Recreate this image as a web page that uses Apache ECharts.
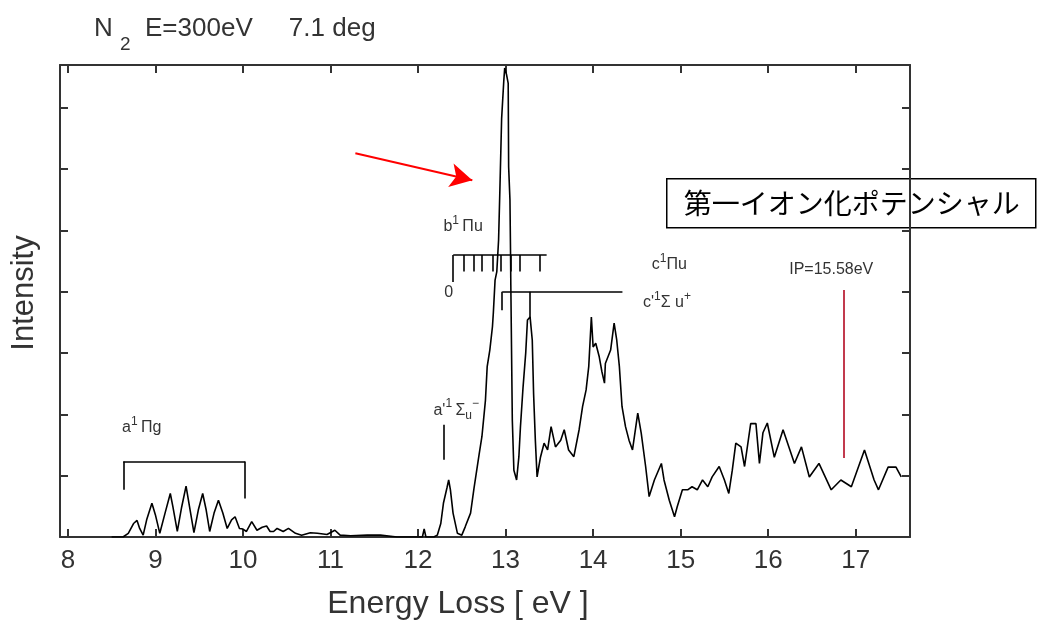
<!DOCTYPE html>
<html>
<head>
<meta charset="utf-8">
<title>N2 E=300eV 7.1 deg</title>
<script src="https://cdn.jsdelivr.net/npm/echarts@6/dist/echarts.min.js"></script>
<style>
  html, body { margin: 0; padding: 0; background: #fff; }
  #main { width: 1047px; height: 632px; }
</style>
</head>
<body>
<div id="main"></div>
<script>
// energy loss (eV) / intensity (arb.)
const energy = [
  8.50, 8.63, 8.69, 8.75, 8.79, 8.82, 8.86, 8.90, 8.96, 9.00,
  9.05, 9.11, 9.17, 9.20, 9.25, 9.30, 9.35, 9.39, 9.44, 9.49,
  9.54, 9.58, 9.62, 9.67, 9.72, 9.77, 9.82, 9.87, 9.91, 9.96,
  10.00, 10.04, 10.10, 10.16, 10.22, 10.27, 10.31, 10.35, 10.39, 10.46,
  10.52, 10.60, 10.67, 10.77, 10.85, 10.96, 11.05, 11.11, 11.23, 11.42,
  11.57, 11.76, 12.05, 12.07, 12.09, 12.18, 12.22, 12.26, 12.29, 12.33,
  12.35, 12.37, 12.40, 12.45, 12.50, 12.54, 12.60, 12.64, 12.70, 12.73,
  12.77, 12.79, 12.82, 12.85, 12.86, 12.88, 12.90, 12.92, 12.935, 12.955,
  12.98, 12.99, 13.01, 13.03, 13.035, 13.05, 13.057, 13.06, 13.077, 13.095,
  13.126, 13.152, 13.17, 13.20, 13.23, 13.25, 13.28, 13.305, 13.32, 13.34,
  13.36, 13.38, 13.40, 13.44, 13.48, 13.52, 13.57, 13.63, 13.67, 13.72,
  13.78, 13.84, 13.88, 13.92, 13.95, 13.98, 14.00, 14.03, 14.07, 14.10,
  14.13, 14.14, 14.20, 14.24, 14.27, 14.30, 14.33, 14.37, 14.41, 14.45,
  14.51, 14.55, 14.60, 14.64, 14.70, 14.78, 14.81, 14.87, 14.93, 14.96,
  15.02, 15.08, 15.13, 15.19, 15.25, 15.31, 15.36, 15.44, 15.50, 15.55,
  15.59, 15.63, 15.69, 15.73, 15.80, 15.86, 15.90, 15.94, 15.99, 16.07,
  16.17, 16.30, 16.38, 16.47, 16.58, 16.72, 16.83, 16.95, 17.10, 17.21,
  17.26, 17.37, 17.46, 17.52
];
const intensity = [
  0, 0, 0.06, 0.22, 0.27, 0.14, 0.03, 0.28, 0.55, 0.36,
  0.06, 0.39, 0.71, 0.49, 0.09, 0.49, 0.83, 0.49, 0.07, 0.44,
  0.71, 0.44, 0.09, 0.39, 0.60, 0.39, 0.14, 0.28, 0.33, 0.14,
  0.13, 0.09, 0.25, 0.11, 0.16, 0.18, 0.09, 0.09, 0.14, 0.09,
  0.14, 0.06, 0.03, 0.07, 0.06, 0.04, 0.11, 0.03, 0.02, 0.03,
  0.03, 0, 0, 0.13, 0, 0, 0.03, 0.22, 0.55, 0.80,
  0.93, 0.77, 0.39, 0.06, 0.03, 0.17, 0.39, 0.80, 1.37, 1.64,
  2.23, 2.78, 3.05, 3.43, 3.65, 4.19, 4.33, 4.84, 5.66, 6.83,
  7.45, 7.65, 7.55, 7.40, 6.04, 5.50, 4.60, 4.11, 1.91, 1.09,
  0.93, 1.31, 1.80, 2.45, 3.00, 3.54, 3.59, 3.21, 2.34, 1.58,
  0.98, 1.15, 1.31, 1.53, 1.42, 1.80, 1.47, 1.58, 1.75, 1.42,
  1.31, 1.75, 2.13, 2.40, 2.78, 3.59, 3.10, 3.16, 2.94, 2.70,
  2.51, 2.83, 3.05, 3.49, 3.21, 2.78, 2.13, 1.80, 1.58, 1.42,
  2.02, 1.69, 1.15, 0.66, 0.93, 1.20, 0.93, 0.60, 0.33, 0.49,
  0.77, 0.77, 0.82, 0.77, 0.93, 0.82, 0.98, 1.15, 0.93, 0.71,
  1.09, 1.53, 1.47, 1.15, 1.85, 1.85, 1.20, 1.70, 1.86, 1.30,
  1.75, 1.20, 1.47, 0.98, 1.20, 0.77, 0.93, 0.82, 1.42, 0.93,
  0.77, 1.14, 1.14, 0.98
];
const xTicks = [8, 9, 10, 11, 12, 13, 14, 15, 16, 17];

// assignment brackets (data coords)
const aBracket = { y: 1.23, from: 8.633, to: 10.025, leftEnd: 0.77, rightEnd: 0.63 };
const a2Tick = { x: 12.29, from: 1.26, to: 1.83 };
const bBracket = {
  y: 4.60, from: 12.402, to: 13.469, tickEnd: 4.33, longTickEnd: 4.16,
  ticks: [12.523, 12.637, 12.733, 12.848, 12.943, 13.057, 13.164, 13.393]
};
const cBracket = { y: 4.0, from: 12.962, to: 14.335, ticks: [[12.962, 3.70], [13.278, 3.57]] };
const ipLine = { x: 16.86, from: 1.29, to: 4.03 };
const arrow = { from: [11.284, 6.26], to: [12.62, 5.82] };

const labels = [
  { at: [8.618, 1.78], text: '{n|a}{sup|1} {n|Πg}' },
  { at: [12.176, 2.07], text: "{n|a'}{sup|1} {n|Σ}{sub|u}{sup|−}" },
  { at: [12.29, 5.07], text: '{n|b}{sup|1} {n|Πu}' },
  { at: [12.30, 3.98], text: '{n|0}' },
  { at: [14.67, 4.44], text: '{n|c}{sup|1}{n|Πu}' },
  { at: [14.57, 3.82], text: "{n|c'}{sup|1}{n|Σ u}{sup|+}" }
];

const seg = (a, b) => [{ coord: a }, { coord: b }];
const bracketLines = [];
bracketLines.push(seg([aBracket.from, aBracket.y], [aBracket.to, aBracket.y]));
bracketLines.push(seg([aBracket.from, aBracket.y], [aBracket.from, aBracket.leftEnd]));
bracketLines.push(seg([aBracket.to, aBracket.y], [aBracket.to, aBracket.rightEnd]));
bracketLines.push(seg([a2Tick.x, a2Tick.from], [a2Tick.x, a2Tick.to]));
bracketLines.push(seg([bBracket.from, bBracket.y], [bBracket.to, bBracket.y]));
bracketLines.push(seg([bBracket.from, bBracket.y], [bBracket.from, bBracket.longTickEnd]));
bBracket.ticks.forEach(t => {
  bracketLines.push(seg([t, bBracket.y], [t, bBracket.tickEnd]));
});
bracketLines.push(seg([cBracket.from, cBracket.y], [cBracket.to, cBracket.y]));
cBracket.ticks.forEach(t => {
  bracketLines.push(seg([t[0], cBracket.y], t));
});

const FONT = "'Liberation Sans', Arial, sans-serif";

const chart = echarts.init(document.getElementById('main'));

const xBase = {
  type: 'value', min: 7.91, max: 17.62,
  splitLine: { show: false },
  axisLine: { show: true, onZero: false, lineStyle: { color: '#333', width: 2 } },
  axisTick: { inside: true, length: 8, customValues: xTicks, lineStyle: { color: '#333', width: 2 } }
};
const yBase = {
  type: 'value', min: 0, max: 7.7, interval: 1,
  splitLine: { show: false },
  axisLine: { show: true, onZero: false, lineStyle: { color: '#333', width: 2 } },
  axisTick: { inside: true, length: 8, lineStyle: { color: '#333', width: 2 } },
  axisLabel: { show: false }
};

chart.setOption({
  animation: false,
  grid: { left: 60, right: 137, top: 65, bottom: 95, containLabel: false },
  xAxis: [
    Object.assign({}, xBase, {
      position: 'bottom',
      axisLabel: { customValues: xTicks, fontSize: 26, color: '#333', fontFamily: FONT, margin: 11 },
      name: 'Energy Loss [ eV ]',
      nameLocation: 'middle',
      nameGap: 51,
      nameTextStyle: { fontSize: 32, color: '#333', fontFamily: FONT, padding: [0, 54, 0, 0] }
    }),
    Object.assign({}, xBase, { position: 'top', axisLabel: { show: false } })
  ],
  yAxis: [
    Object.assign({}, yBase, {
      position: 'left',
      name: 'Intensity',
      nameLocation: 'middle',
      nameGap: 20,
      nameTextStyle: { fontSize: 31, color: '#333', fontFamily: FONT, padding: [0, 0, 0, 16] }
    }),
    Object.assign({}, yBase, { position: 'right' })
  ],
  series: [
    {
      name: 'spectrum',
      type: 'line',
      data: energy.map((e, i) => [e, intensity[i]]),
      showSymbol: false,
      lineStyle: { color: '#000', width: 1.6 },
      silent: true
    },
    {
      name: 'brackets',
      type: 'line',
      data: [],
      silent: true,
      markLine: {
        silent: true, symbol: 'none', label: { show: false },
        lineStyle: { color: '#000', width: 1.6, type: 'solid' },
        data: bracketLines
      }
    },
    {
      name: 'ip',
      type: 'line',
      data: [],
      silent: true,
      markLine: {
        silent: true, symbol: 'none', label: { show: false },
        lineStyle: { color: '#c23a4e', width: 2, type: 'solid' },
        data: [seg([ipLine.x, ipLine.from], [ipLine.x, ipLine.to])]
      }
    },
    {
      name: 'arrow',
      type: 'line',
      data: [],
      silent: true,
      markLine: {
        silent: true, symbol: ['none', 'arrow'], symbolSize: [18, 22],
        label: { show: false },
        lineStyle: { color: '#ff0000', width: 2, type: 'solid' },
        data: [seg(arrow.from, arrow.to)]
      }
    }
  ]
});

// text annotations placed from data coords
const toPx = p => chart.convertToPixel({ xAxisIndex: 0, yAxisIndex: 0 }, p);
const rich = {
  n: { fontSize: 16, fontFamily: FONT, fill: '#333', lineHeight: 24, verticalAlign: 'middle' },
  sup: { fontSize: 12, fontFamily: FONT, fill: '#333', verticalAlign: 'top' },
  sub: { fontSize: 12, fontFamily: FONT, fill: '#333', verticalAlign: 'bottom' }
};
const graphics = labels.map(l => {
  const p = toPx(l.at);
  return {
    type: 'text', x: p[0], y: p[1], z: 50, silent: true,
    style: { text: l.text, rich: rich, align: 'left', verticalAlign: 'middle' }
  };
});
const ipPx = toPx([ipLine.x - 0.14, ipLine.to + 0.33]);
graphics.push({
  type: 'text', x: ipPx[0], y: ipPx[1], z: 50, silent: true,
  style: { text: 'IP=15.58eV', fontSize: 16, fontFamily: FONT, fill: '#333', align: 'center', verticalAlign: 'middle' }
});
// title
graphics.push({
  type: 'text', left: 94, top: 16, silent: true,
  style: {
    text: '{m|N }{s|2}{m|  E=300eV     7.1 deg}',
    rich: {
      m: { fontSize: 26, fontFamily: FONT, fill: '#333', lineHeight: 30 },
      s: { fontSize: 19, fontFamily: FONT, fill: '#333', verticalAlign: 'bottom', padding: [0, 0, -10, 0] }
    }
  }
});
// callout box
graphics.push({
  type: 'group', left: 666, top: 178, z: 100, silent: true,
  children: [
    { type: 'rect', shape: { x: 0, y: 0, width: 369, height: 49 },
      style: { fill: '#fff', stroke: '#000', lineWidth: 1.5 } },
    { type: 'text', x: 17, y: 25,
      style: { text: '第一イオン化ポテンシャル', fontSize: 28, fontFamily: "'Noto Sans CJK JP', sans-serif",
               fill: '#000', align: 'left', verticalAlign: 'middle' } }
  ]
});
chart.setOption({ graphic: graphics });
</script>
</body>
</html>
